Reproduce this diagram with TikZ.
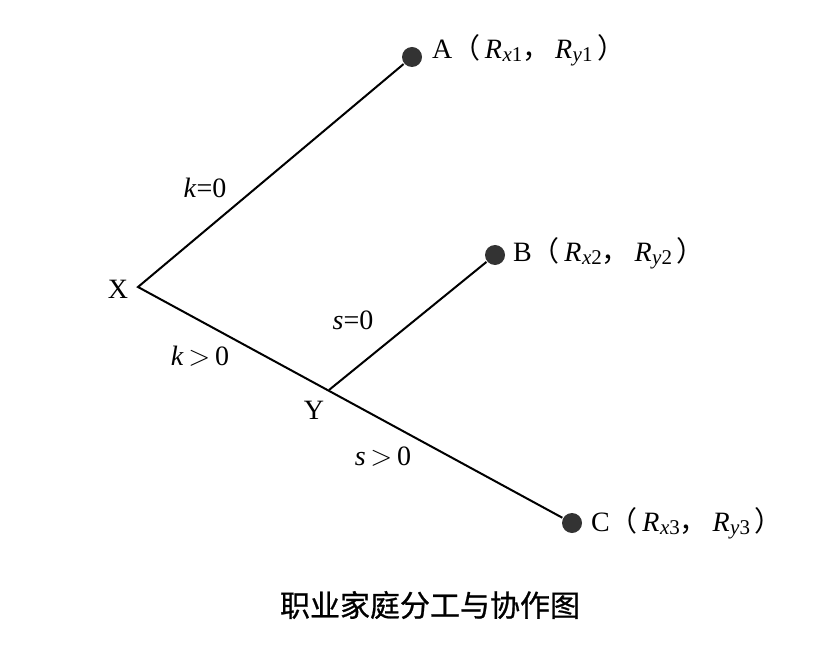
\documentclass[tikz,border=0pt]{standalone}
\usepackage{fontspec}
\setmainfont{Liberation Serif}
\newfontfamily\cjk{Noto Sans CJK SC}
\newfontfamily\cjkcap[FakeBold=0.8]{Noto Sans CJK SC}
\usepackage{tikz}

\newcommand{\Rxy}[2]{\textit{R}\kern0.02em\raisebox{-0.25ex}{\fontsize{10.5}{12}\selectfont\textit{#1}#2}}
\newcommand{\pay}[2]{{\cjk （}\,\Rxy{x}{#1}{\cjk ，}\,\Rxy{y}{#2}\,{\cjk ）}}

\begin{document}
\begin{tikzpicture}[x=0.5pt, y=-0.5pt, line width=1pt,
  dot/.style={circle, fill=black!80, inner sep=0pt, minimum size=10pt},
  lbl/.style={font=\fontsize{14}{16}\selectfont, inner sep=1pt}]
  \useasboundingbox (0,0) rectangle (838,657);
  % end points
  \coordinate (x) at (138,287);
  \coordinate (y) at (329,390);
  \node[dot] (a) at (412,57) {};
  \node[dot] (b) at (495,255) {};
  \node[dot] (c) at (572,523) {};
  % branches
  \draw (a) -- (x) -- (c);
  \draw (y) -- (b);
  % labels
  \node[lbl] (xl) at (118,289) {X};
  \node[lbl] (yl) at (314,410) {Y};
  \node[lbl, anchor=west] (al) at (429,50) {A\pay{1}{1}};
  \node[lbl, anchor=west] (bl) at (510,253) {B\pay{2}{2}};
  \node[lbl, anchor=west] (cl) at (588,523) {C\pay{3}{3}};
  \node[lbl] (k0) at (205,188) {\textit{k}=0};
  \node[lbl] (k1) at (200,356) {\textit{k}\,$>$\,0};
  \node[lbl] (s0) at (353,320) {\textit{s}=0};
  \node[lbl] (s1) at (383,457) {\textit{s}\,$>$\,0};
  \node[font=\cjkcap\fontsize{15}{18}\selectfont] (cap) at (430,605) {职业家庭分工与协作图};
\end{tikzpicture}
\end{document}
